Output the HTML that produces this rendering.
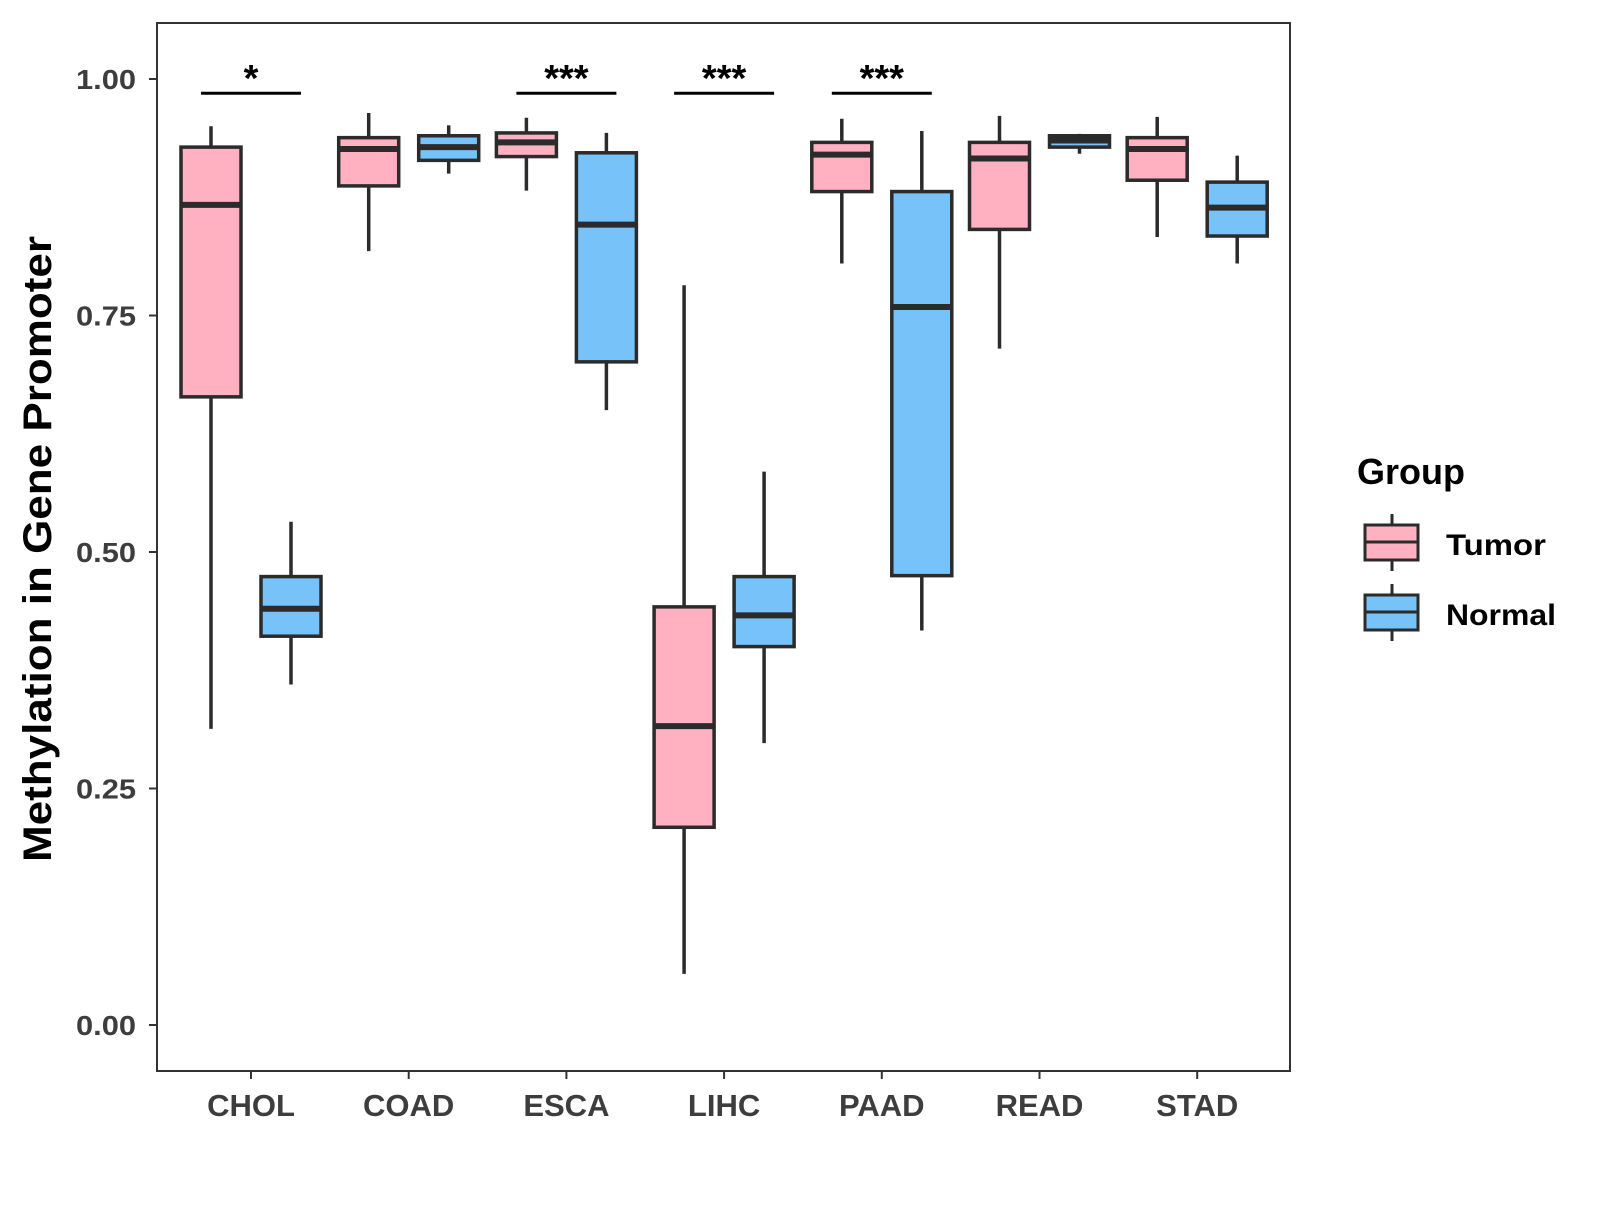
<!DOCTYPE html>
<html><head><meta charset="utf-8"><style>
body{margin:0;background:#fff}
svg text{font-family:"Liberation Sans",Arial,sans-serif;font-weight:bold}
</style></head><body>
<svg id="chart" width="1600" height="1200" xmlns="http://www.w3.org/2000/svg">
<rect x="0" y="0" width="1600" height="1200" fill="#fff"/>
<g id="marks"></g>
<rect x="157" y="23" width="1133" height="1048" fill="none" stroke="#333" stroke-width="2"/>
<text transform="translate(51,549) rotate(-90)" text-anchor="middle" font-size="40" textLength="626" lengthAdjust="spacingAndGlyphs" fill="#000">Methylation in Gene Promoter</text>
<g>
<text x="1357" y="484" font-size="36" fill="#000">Group</text>
<g>
<line x1="1392" y1="514" x2="1392" y2="571" stroke="#2b2b2b" stroke-width="3"/>
<rect x="1365" y="525" width="53" height="35" fill="#FFB0C1" stroke="#2b2b2b" stroke-width="3"/>
<line x1="1365" y1="542" x2="1418" y2="542" stroke="#2b2b2b" stroke-width="3"/>
<text x="1446" y="555" font-size="30" textLength="100" lengthAdjust="spacingAndGlyphs" fill="#000">Tumor</text></g>
<g>
<line x1="1392" y1="584" x2="1392" y2="641" stroke="#2b2b2b" stroke-width="3"/>
<rect x="1365" y="595" width="53" height="35" fill="#77C2F8" stroke="#2b2b2b" stroke-width="3"/>
<line x1="1365" y1="612" x2="1418" y2="612" stroke="#2b2b2b" stroke-width="3"/>
<text x="1446" y="625" font-size="30" textLength="110" lengthAdjust="spacingAndGlyphs" fill="#000">Normal</text></g>
</g>
</svg>
<script>
const categories=["CHOL","COAD","ESCA","LIHC","PAAD","READ","STAD"];
const tumorStats=[[0.313,0.664,0.867,0.928,0.950],[0.818,0.887,0.926,0.938,0.964],[0.882,0.918,0.933,0.943,0.959],[0.054,0.209,0.316,0.442,0.782],[0.805,0.881,0.920,0.933,0.958],[0.715,0.841,0.916,0.933,0.961],[0.833,0.893,0.926,0.938,0.960]];
const normalStats=[[0.360,0.411,0.440,0.474,0.532],[0.900,0.914,0.928,0.940,0.951],[0.650,0.701,0.846,0.922,0.943],[0.298,0.400,0.433,0.474,0.585],[0.417,0.475,0.759,0.881,0.945],[0.921,0.928,0.935,0.940,0.942],[0.805,0.834,0.864,0.891,0.919]];
const yTicks=[0,0.25,0.5,0.75,1.0];
const yTickLabels=["0.00","0.25","0.50","0.75","1.00"];
const sigCategories=["CHOL","ESCA","LIHC","PAAD"];
const sigLabels=["*","***","***","***"];
const sigLevel=0.985;

const NS="http://www.w3.org/2000/svg";
const g=document.getElementById('marks');
const svg=document.getElementById('chart');
function y(v){return 1025-v*946;}
function x(i){return 251+i*157.7;}
function el(t,a,p){const e=document.createElementNS(NS,t);for(const k in a)e.setAttribute(k,a[k]);(p||g).appendChild(e);return e;}
yTicks.forEach((v,i)=>{
 const t=el('line',{x1:149,x2:157,y1:y(v),y2:y(v),stroke:'#333','stroke-width':2},svg);
 
 
 const l=el('text',{x:136,y:y(v)+10,'text-anchor':'end','font-size':28,textLength:60,lengthAdjust:'spacingAndGlyphs',fill:'#3d3d3d'},svg);
 l.textContent=yTickLabels[i];
 
 
});
categories.forEach((c,i)=>{
 const t=el('line',{x1:x(i),x2:x(i),y1:1071,y2:1079,stroke:'#333','stroke-width':2},svg);
 
 
 const l=el('text',{x:x(i),y:1116,'text-anchor':'middle','font-size':31,fill:'#3d3d3d'},svg);
 l.textContent=c;
 
 
});
function box(cx,s,fill,name){
 const b=el('g',{});
 
 
 el('line',{x1:cx,x2:cx,y1:y(s[0]),y2:y(s[4]),stroke:'#2b2b2b','stroke-width':3.5},b);
 el('rect',{x:cx-30,y:y(s[3]),width:60,height:y(s[1])-y(s[3]),fill:fill,stroke:'#2b2b2b','stroke-width':3.5},b);
 el('line',{x1:cx-30,x2:cx+30,y1:y(s[2]),y2:y(s[2]),stroke:'#2b2b2b','stroke-width':6},b);
}
categories.forEach((c,i)=>{
 box(x(i)-40,tumorStats[i],'#FFB0C1','box-'+c.toLowerCase()+'-tumor');
 box(x(i)+40,normalStats[i],'#77C2F8','box-'+c.toLowerCase()+'-normal');
});
sigCategories.forEach((c,k)=>{
 const i=categories.indexOf(c);
 const ln=el('line',{x1:x(i)-50,x2:x(i)+50,y1:y(sigLevel),y2:y(sigLevel),stroke:'#000','stroke-width':3});
 
 
 const t=el('text',{x:x(i),y:y(sigLevel)-2,'text-anchor':'middle','font-size':38,fill:'#000'});
 t.textContent=sigLabels[k];
 
 
});
</script>
</body></html>
